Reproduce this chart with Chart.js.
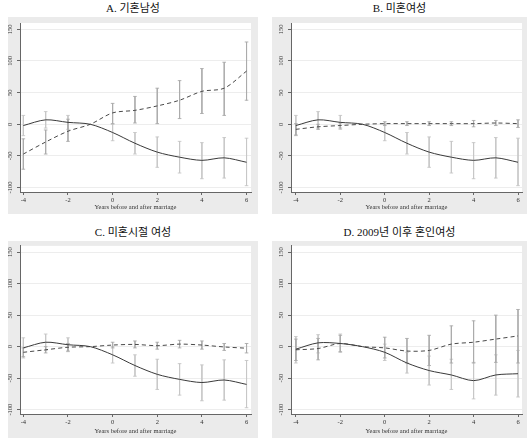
<!DOCTYPE html>
<html>
<head>
<meta charset="utf-8">
<script src="https://cdn.jsdelivr.net/npm/chart.js@4.4.1/dist/chart.umd.min.js"></script>
<style>
body { margin: 0; background: #fff; width: 529px; height: 440px; position: relative; overflow: hidden; }
.ttl { position: absolute; font-family: "Liberation Serif", "Noto Sans CJK KR", serif; font-size: 11px; line-height: 14px; text-align: center; color: #111; white-space: nowrap; }
canvas { position: absolute; background: #ebebeb; }
</style>
</head>
<body>
<script>
var years = [-4, -3, -2, -1, 0, 1, 2, 3, 4, 5, 6];
var xTicks = [-4, -2, 0, 2, 4, 6];
var yTicks = [-100, -50, 0, 50, 100, 150];
var titles = ['A. 기혼남성', 'B. 미혼여성', 'C. 미혼시절 여성', 'D. 2009년 이후 혼인여성'];
var xTitle = 'Years before and after marriage';

// solid line, same in A, B and C
var solidABC   = [-2, 7, 3, 0, -13, -30, -44, -52, -57, -53, -60];
var solidABCHi = [14, 20, 14, 0, 0, -13, -20, -27, -29, -21, -22];
var solidABCLo = [-18, -6, -8, 0, -26, -47, -68, -77, -86, -85, -97];

var dashA   = [-47, -28, -11, 0, 18, 22, 29, 38, 52, 57, 84];
var dashAHi = [-23, -9, 8, 0, 33, 44, 57, 69, 88, 98, 130];
var dashALo = [-71, -47, -27, 0, 1, 2, 1, 9, 17, 14, 38];

var dashB   = [-8, -4, -2, 0, 1, 1, 1, 1, 1, 2, 1];
var dashBHi = [1, 0, 2, 0, 4, 4, 4, 4, 6, 6, 7];
var dashBLo = [-17, -8, -6, 0, -2, -2, -2, -2, -4, -2, -5];

var dashC   = [-9, -5, -1, 0, 2.5, 3.5, 1.5, 4, 2.5, -0.5, -2.5];
var dashCHi = [-2, 0, 5, 0, 7, 9, 7, 10, 9, 5, 5];
var dashCLo = [-16, -10, -7, 0, -2, -2, -4, -2, -4, -6, -10];

var solidD   = [-4, 6, 5, 0, -9, -26, -38, -45, -54, -45, -43];
var solidDHi = [16, 19, 20, 0, 4, -9, -15, -20, -25, -13, -6];
var solidDLo = [-26, -10, -9, 0, -22, -42, -61, -68, -83, -77, -80];
var dashD   = [-5, -3, 5, 0, -2, -7, -6, 4, 7, 12, 17];
var dashDHi = [12, 13, 18, 0, 15, 13, 18, 33, 41, 50, 59];
var dashDLo = [-22, -21, -8, 0, -18, -26, -30, -26, -26, -25, -26];

var panels = [
  { title: titles[0], solid: solidABC, solidHi: solidABCHi, solidLo: solidABCLo, dash: dashA, dashHi: dashAHi, dashLo: dashALo, col: 0, row: 0 },
  { title: titles[1], solid: solidABC, solidHi: solidABCHi, solidLo: solidABCLo, dash: dashB, dashHi: dashBHi, dashLo: dashBLo, col: 1, row: 0 },
  { title: titles[2], solid: solidABC, solidHi: solidABCHi, solidLo: solidABCLo, dash: dashC, dashHi: dashCHi, dashLo: dashCLo, col: 0, row: 1 },
  { title: titles[3], solid: solidD, solidHi: solidDHi, solidLo: solidDLo, dash: dashD, dashHi: dashDHi, dashLo: dashDLo, col: 1, row: 1 }
];

// box geometry
var cols = [
  { left: 8, width: 250, yw: 12, pr: 7, xmin: -4.15, xmax: 6.2 },
  { left: 272, width: 255, yw: 19, pr: 5, xmin: -4.22, xmax: 6.18 }
];
var rows = [
  { top: 17, height: 197, pt: 6, xh: 22, ttl: 8 },
  { top: 241, height: 197, pt: 4, xh: 24, ttl: 232 }
];

var tickFont = { family: 'Liberation Serif', size: 6.5 };

var plotBg = {
  id: 'plotBg',
  beforeDraw: function (c) {
    var a = c.chartArea;
    c.ctx.save();
    c.ctx.fillStyle = '#fff';
    c.ctx.fillRect(a.left, a.top, a.right - a.left, a.bottom - a.top);
    c.ctx.restore();
  }
};

function ciPoints(hi, lo) {
  var pts = [];
  years.forEach(function (x, i) {
    if (hi[i] === lo[i]) return;
    pts.push({ x: x, y: hi[i] }, { x: x, y: lo[i] }, { x: x, y: null });
  });
  return pts;
}

function pts(vals) {
  return years.map(function (x, i) { return { x: x, y: vals[i] }; });
}

function ciSet(hi, lo, color) {
  return {
    data: ciPoints(hi, lo),
    borderColor: color,
    borderWidth: 0.9,
    pointStyle: 'line',
    pointRadius: 1.8,
    pointBorderColor: color,
    pointBorderWidth: 0.9,
    spanGaps: false,
    tension: 0
  };
}

panels.forEach(function (p) {
  var col = cols[p.col], row = rows[p.row];

  var t = document.createElement('div');
  t.className = 'ttl';
  t.style.left = col.left + 'px';
  t.style.width = col.width + 'px';
  t.style.top = (row.ttl - 7) + 'px';
  t.textContent = p.title;
  document.body.appendChild(t);

  var cv = document.createElement('canvas');
  cv.width = col.width;
  cv.height = row.height;
  cv.style.left = col.left + 'px';
  cv.style.top = row.top + 'px';
  document.body.appendChild(cv);

  new Chart(cv, {
    type: 'line',
    data: {
      datasets: [
        { data: pts(p.solid), borderColor: '#3a3a3a', borderWidth: 1, pointRadius: 0, tension: 0.3 },
        { data: pts(p.dash), borderColor: '#4a4a4a', borderWidth: 1, borderDash: [4, 3], pointRadius: 0, tension: 0.3 },
        ciSet(p.dashHi, p.dashLo, '#aaaaaa'),
        ciSet(p.solidHi, p.solidLo, '#c6c6c6')
      ]
    },
    options: {
      responsive: false,
      animation: false,
      layout: { padding: { left: 0, right: col.pr, top: row.pt, bottom: 0 } },
      plugins: { legend: { display: false }, tooltip: { enabled: false } },
      scales: {
        x: {
          type: 'linear',
          min: col.xmin,
          max: col.xmax,
          afterBuildTicks: function (s) { s.ticks = xTicks.map(function (v) { return { value: v }; }); },
          afterFit: function (s) { s.height = row.xh; },
          grid: { drawOnChartArea: false, tickLength: 3, tickColor: '#666' },
          border: { color: '#666', width: 1 },
          ticks: { font: tickFont, color: '#333', padding: 1, maxRotation: 0, autoSkip: false },
          title: { display: true, text: xTitle, font: tickFont, color: '#333', padding: { top: 0, bottom: 3 } }
        },
        y: {
          min: -107,
          max: 160,
          afterBuildTicks: function (s) { s.ticks = yTicks.map(function (v) { return { value: v }; }); },
          afterFit: function (s) { s.width = col.yw; },
          grid: { color: '#ededed', tickLength: 3, tickColor: '#666' },
          border: { color: '#666', width: 1 },
          ticks: { font: tickFont, color: '#333', padding: 1, minRotation: 90, maxRotation: 90, crossAlign: 'center', autoSkip: false }
        }
      }
    },
    plugins: [plotBg]
  });
});
</script>
</body>
</html>
